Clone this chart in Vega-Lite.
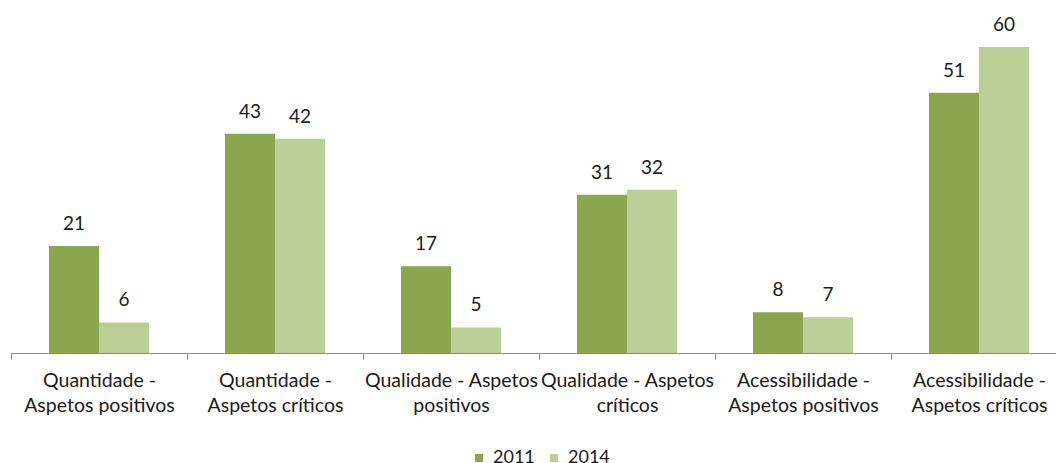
{
  "$schema": "https://vega.github.io/schema/vega-lite/v6.json",
  "autosize": {"type": "none"},
  "width": 1045,
  "height": 353,
  "padding": {"left": 11, "top": 0, "right": 0, "bottom": 110},
  "background": "white",
  "config": {"view": {"stroke": null}, "font": "Lato"},
  "data": {
    "values": [
      {"cat": "Quantidade -|Aspetos positivos", "year": "2011", "value": 21},
      {"cat": "Quantidade -|Aspetos positivos", "year": "2014", "value": 6},
      {"cat": "Quantidade -|Aspetos críticos", "year": "2011", "value": 43},
      {"cat": "Quantidade -|Aspetos críticos", "year": "2014", "value": 42},
      {"cat": "Qualidade - Aspetos|positivos", "year": "2011", "value": 17},
      {"cat": "Qualidade - Aspetos|positivos", "year": "2014", "value": 5},
      {"cat": "Qualidade - Aspetos|críticos", "year": "2011", "value": 31},
      {"cat": "Qualidade - Aspetos|críticos", "year": "2014", "value": 32},
      {"cat": "Acessibilidade -|Aspetos positivos", "year": "2011", "value": 8},
      {"cat": "Acessibilidade -|Aspetos positivos", "year": "2014", "value": 7},
      {"cat": "Acessibilidade -|Aspetos críticos", "year": "2011", "value": 51},
      {"cat": "Acessibilidade -|Aspetos críticos", "year": "2014", "value": 60}
    ]
  },
  "encoding": {
    "x": {
      "field": "cat", "type": "nominal", "sort": null,
      "scale": {"range": [0, 1056], "paddingInner": 0, "paddingOuter": 0},
      "axis": {
        "title": null, "labelAngle": 0, "labelExpr": "split(datum.label, '|')",
        "labelFontSize": 19.5, "labelLineHeight": 25, "labelColor": "#1a1a1a",
        "labelPadding": 12, "labelBaseline": "top",
        "domainColor": "#898989", "tickColor": "#898989", "tickSize": 6,
        "tickBand": "extent", "labelLimit": 300
      }
    },
    "xOffset": {"field": "year", "type": "nominal", "scale": {"paddingInner": 0, "paddingOuter": 0.76}},
    "y": {"field": "value", "type": "quantitative", "scale": {"domain": [0, 69.2], "nice": false}, "axis": null}
  },
  "layer": [
    {
      "mark": {"type": "bar"},
      "encoding": {
        "color": {
          "field": "year", "type": "nominal",
          "scale": {"domain": ["2011", "2014"], "range": ["#8aa64f", "#b9cf96"]},
          "legend": {
            "title": null, "orient": "none", "direction": "horizontal",
            "legendX": 459, "legendY": 449, "symbolType": "square", "symbolSize": 64,
            "symbolStrokeWidth": 0, "labelFontSize": 18, "labelColor": "#1a1a1a",
            "labelOffset": 5, "columnPadding": 10
          }
        }
      }
    },
    {
      "mark": {"type": "text", "dy": -22, "fontSize": 19, "color": "#1a1a1a"},
      "encoding": {"text": {"field": "value", "type": "quantitative"}}
    }
  ]
}
